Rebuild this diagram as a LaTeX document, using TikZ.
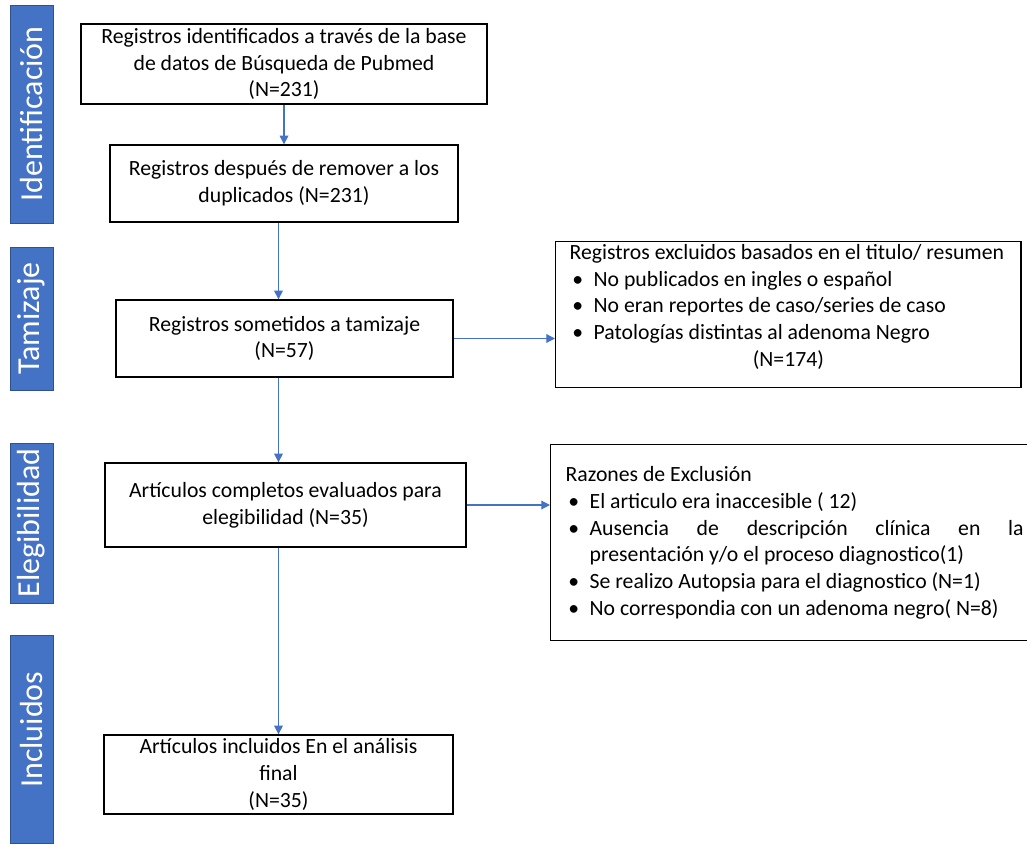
\documentclass[tikz,border=0pt]{standalone}
\usepackage{fontspec}
\setmainfont{Carlito}
\usepackage{tikz}
\usetikzlibrary{arrows.meta}
\definecolor{bandblue}{HTML}{4472C4}
\definecolor{bandline}{HTML}{2F528F}
\newcommand{\Punto}{\par\hangindent=18pt\hangafter=1\noindent\makebox[18pt][l]{\hspace{2pt}\textbullet}}

\begin{document}
\begin{tikzpicture}[x=0.75pt,y=-0.75pt,
  band/.style={draw=bandline,fill=bandblue,text=white,rotate=90,inner sep=0pt,
    minimum height=32pt,font=\fontsize{24}{28}\selectfont},
  caja/.style={draw,line width=1pt,inner sep=0pt,align=center,
    font=\fontsize{16.3}{20}\selectfont},
  lista/.style={draw,line width=1pt,anchor=north west,inner xsep=10.5pt,inner ysep=2pt,
    text width=#1,align=justify,font=\fontsize{16.3}{20}\selectfont},
  flecha/.style={draw=bandblue,line width=0.9pt,-{Triangle[length=6.5pt,width=6.5pt]}}]

\useasboundingbox (0,0) rectangle (1027,845);

% etapas
\node[band,minimum width=163.5pt] (ident) at (31.5,114) {Identificación};
\node[band,minimum width=107pt] (tamiz) at (31.5,318.5) {Tamizaje};
\node[band,minimum width=120pt] (eleg) at (31.5,523) {Elegibilidad};
\node[band,minimum width=156pt] (incl) at (31.5,739) {\hspace*{14pt}Incluidos};

% cajas principales
\node[caja,minimum width=304.5pt,minimum height=60pt] (b1) at (284,64)
  {Registros identificados a través de la base\\de datos de Búsqueda de Pubmed\\(N=231)};
\node[caja,minimum width=261pt,minimum height=57.75pt] (b2) at (284,183.5)
  {Registros después de remover a los\\duplicados (N=231)};
\node[caja,minimum width=252.75pt,minimum height=57.75pt] (b3) at (284.5,338.5)
  {Registros sometidos a tamizaje\\(N=57)};
\node[caja,minimum width=270.75pt,minimum height=63pt] (b4) at (285.5,505)
  {Artículos completos evaluados para\\elegibilidad (N=35)};
\node[caja,minimum width=261.75pt,minimum height=59.25pt] (b5) at (278.5,774.5)
  {Artículos incluidos En el análisis\\final\\(N=35)};

% exclusiones
\node[lista=328pt,text depth=94pt] (r1) at (555,241)
  {\raggedright Registros excluidos basados en el titulo/ resumen
   \Punto No publicados en ingles o español
   \Punto No eran reportes de caso/series de caso
   \Punto Patologías distintas al adenoma Negro
   \par\centering (N=174)\par};
\node[lista=343.5pt,inner xsep=11.25pt,minimum height=147pt] (r2) at (550,444)
  {\noindent Razones de Exclusión
   \Punto El articulo era inaccesible ( 12)
   \Punto Ausencia de descripción clínica en la\linebreak presentación y/o el proceso diagnostico(1)
   \Punto Se realizo Autopsia para el diagnostico (N=1)
   \Punto No correspondia con un adenoma negro( N=8)};

\draw[flecha] (b1.south) -- (b1.south |- b2.north);
\draw[flecha] (b2.south -| b5.north) -- (b3.north -| b5.north);
\draw[flecha] (b3.south -| b5.north) -- (b4.north -| b5.north);
\draw[flecha] (b4.south -| b5.north) -- (b5.north);
\draw[flecha] (b3.east) -- (b3.east -| r1.west);
\draw[flecha] (b4.east) -- (b4.east -| r2.west);

\end{tikzpicture}
\end{document}
